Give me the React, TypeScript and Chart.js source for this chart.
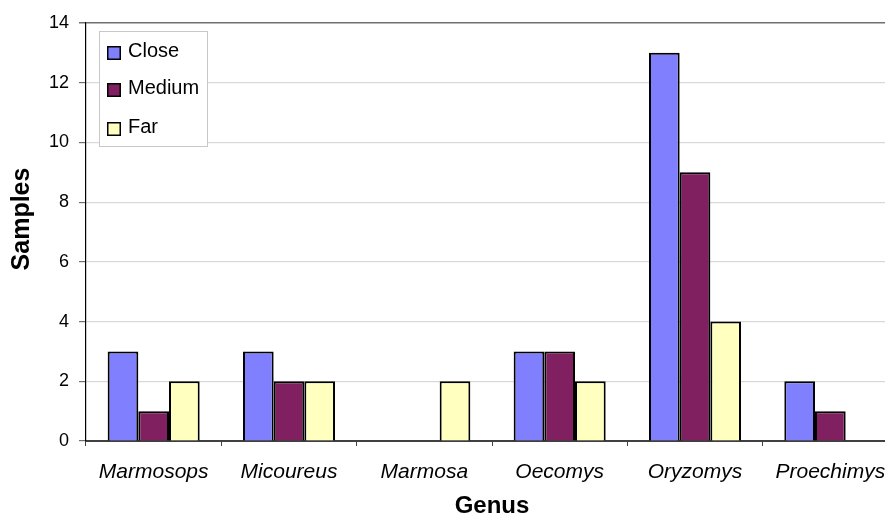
import React, { useEffect, useRef } from "react";
import { Chart, registerables } from "chart.js";

Chart.register(...registerables);

const categories = ["Marmosops", "Micoureus", "Marmosa", "Oecomys", "Oryzomys", "Proechimys"];
const closeValues = [3, 3, 0, 3, 13, 2];
const mediumValues = [1, 2, 0, 3, 9, 1];
const farValues = [2, 2, 2, 2, 4, 0];
const yTicks = [0, 2, 4, 6, 8, 10, 12, 14];
const yTitle = "Samples";
const xTitle = "Genus";

const FONT = "'Liberation Sans', Arial, sans-serif";

const legendPlugin = {
  id: "boxLegend",
  afterDraw(chart: any) {
    const ctx = chart.ctx;
    const x0 = 99, y0 = 31, w = 108, h = 115;
    ctx.save();
    ctx.fillStyle = "#ffffff";
    ctx.fillRect(x0, y0, w, h);
    ctx.strokeStyle = "#c8c8c8";
    ctx.lineWidth = 1;
    ctx.strokeRect(x0 + 0.5, y0 + 0.5, w, h);
    const rows = [53, 90, 129];
    ctx.font = "20px " + FONT;
    ctx.textBaseline = "middle";
    chart.data.datasets.forEach((ds: any, i: number) => {
      const cy = rows[i];
      ctx.fillStyle = ds.backgroundColor;
      ctx.fillRect(107, cy - 7, 14, 14);
      ctx.strokeStyle = "#000";
      ctx.lineWidth = 1.5;
      ctx.strokeRect(107.75, cy - 6.25, 12.5, 12.5);
      ctx.fillStyle = "#000";
      ctx.fillText(ds.label, 128, cy - 2);
    });
    ctx.restore();
  },
};

const yTitlePlugin = {
  id: "yTitle",
  afterDraw(chart: any) {
    const ctx = chart.ctx;
    ctx.save();
    ctx.translate(22, 219);
    ctx.rotate(-Math.PI / 2);
    ctx.font = "bold 25px " + FONT;
    ctx.fillStyle = "#000";
    ctx.textAlign = "center";
    ctx.textBaseline = "middle";
    ctx.fillText(yTitle, 0, 0);
    ctx.restore();
  },
};

export default function App() {
  const ref = useRef<HTMLCanvasElement | null>(null);
  useEffect(() => {
    if (!ref.current) return;
    const chart = new Chart(ref.current, {
      type: "bar",
      data: {
        labels: categories,
        datasets: [
          { label: "Close", data: closeValues, backgroundColor: "#8080FF", borderColor: "#000", borderWidth: 2 },
          { label: "Medium", data: mediumValues, backgroundColor: "#802060", borderColor: "#000", borderWidth: 2 },
          { label: "Far", data: farValues, backgroundColor: "#FFFFC0", borderColor: "#000", borderWidth: 2 },
        ],
      },
      options: {
        responsive: false,
        animation: false,
        layout: { padding: { left: 0, right: 2, top: 23, bottom: 0 } },
        datasets: { bar: { categoryPercentage: 0.68, barPercentage: 1.0 } },
        plugins: { legend: { display: false }, tooltip: { enabled: false } },
        scales: {
          x: {
            grid: {
              offset: true,
              drawOnChartArea: false,
              tickLength: 5,
              color: "#404040",
            },
            border: { color: "#404040", width: 2 },
            ticks: {
              color: "#000",
              padding: 14,
              font: { family: FONT, size: 21, style: "italic" },
              maxRotation: 0,
            },
            title: {
              display: true,
              text: xTitle,
              color: "#000",
              font: { family: FONT, size: 24, weight: "bold", lineHeight: 1 },
              padding: { top: 0, bottom: -4 },
            },
            afterFit(scale: any) {
              scale.height = 73;
            },
          },
          y: {
            min: 0,
            max: 14,
            afterBuildTicks(scale: any) {
              scale.ticks = yTicks.map((v) => ({ value: v }));
            },
            grid: {
              color: (c: any) => (c.tick && c.tick.value === 14 ? "#707070" : c.tick && c.tick.value === 0 ? "#404040" : "#d9d9d9"),
              lineWidth: (c: any) => (c.tick && c.tick.value === 14 ? 1.5 : 1.2),
              tickColor: "#707070",
              tickLength: 7,
            },
            border: { color: "#000", width: 1.2 },
            ticks: {
              color: "#000",
              padding: 10,
              font: { family: FONT, size: 18 },
            },
            title: { display: false },
            afterFit(scale: any) {
              scale.width = 86;
            },
          },
        },
      },
      plugins: [legendPlugin, yTitlePlugin],
    });
    return () => chart.destroy();
  }, []);
  return (
    <div style={{ position: "fixed", left: 0, top: 0, width: 885, height: 514, overflow: "hidden", background: "#fff" }}>
      <canvas ref={ref} width={900} height={514} style={{ display: "block" }} />
    </div>
  );
}
